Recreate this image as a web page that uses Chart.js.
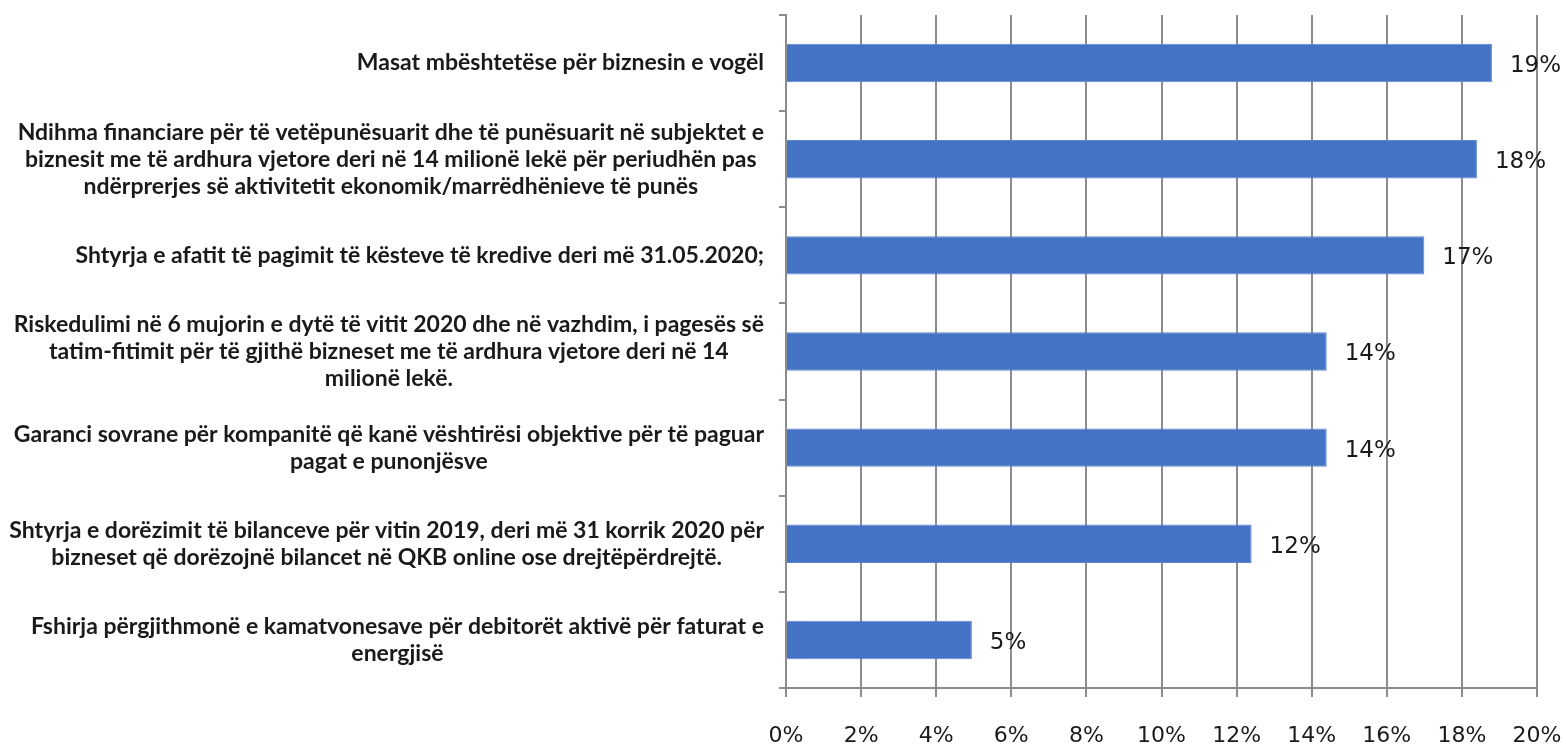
<!DOCTYPE html>
<html>
<head>
<meta charset="utf-8">
<script src="https://cdn.jsdelivr.net/npm/chart.js@4/dist/chart.umd.min.js"></script>
<style>
  html, body { margin: 0; padding: 0; background: #ffffff; }
  #wrap { width: 1566px; height: 745px; position: relative; }
</style>
</head>
<body>
<div id="wrap"><canvas id="c" width="1566" height="745"></canvas></div>
<script>
// ---- Data ----
const categories = [
  ["Masat mbështetëse për biznesin e vogël"],
  ["Ndihma financiare për të vetëpunësuarit dhe të punësuarit në subjektet e",
   "biznesit me të ardhura vjetore deri në 14 milionë lekë për periudhën pas",
   "ndërprerjes së aktivitetit ekonomik/marrëdhënieve të punës"],
  ["Shtyrja e afatit të pagimit të kësteve të kredive deri më 31.05.2020;"],
  ["Riskedulimi në 6 mujorin e dytë të vitit 2020 dhe në vazhdim, i pagesës së",
   "tatim-fitimit për të gjithë bizneset me të ardhura vjetore deri në 14",
   "milionë lekë."],
  ["Garanci sovrane për kompanitë që kanë vështirësi objektive për të paguar",
   "pagat e punonjësve"],
  ["Shtyrja e dorëzimit të bilanceve për vitin 2019, deri më 31 korrik 2020 për",
   "bizneset që dorëzojnë bilancet në QKB online ose drejtëpërdrejtë."],
  ["Fshirja përgjithmonë e kamatvonesave për debitorët aktivë për faturat e",
   "energjisë"]
];
const values = [18.8, 18.4, 17.0, 14.4, 14.4, 12.4, 4.95];
const valueLabels = ["19%", "18%", "17%", "14%", "14%", "12%", "5%"];
const xTicks = [0, 2, 4, 6, 8, 10, 12, 14, 16, 18, 20];

// ---- Plugins ----
const catLabelPlugin = {
  id: 'catLabels',
  afterDraw(chart) {
    const ctx = chart.ctx;
    const y = chart.scales.y;
    ctx.save();
    ctx.font = 'bold 23px Lato, "Open Sans", sans-serif';
    ctx.fillStyle = '#1a1a1a';
    ctx.textAlign = 'center';
    ctx.textBaseline = 'middle';
    const lh = 27;
    const rightEdge = 764;
    categories.forEach((lines, i) => {
      const cy = y.getPixelForValue(i);
      let maxW = 0;
      lines.forEach(l => { maxW = Math.max(maxW, ctx.measureText(l).width); });
      const cx = rightEdge - maxW / 2;
      const y0 = cy - (lines.length - 1) * lh / 2;
      lines.forEach((l, k) => ctx.fillText(l, cx, y0 + k * lh));
    });
    ctx.restore();
  }
};

const valueLabelPlugin = {
  id: 'valLabels',
  afterDatasetsDraw(chart) {
    const ctx = chart.ctx;
    const meta = chart.getDatasetMeta(0);
    ctx.save();
    ctx.font = '23px "DejaVu Sans", Verdana, sans-serif';
    ctx.fillStyle = '#1a1a1a';
    ctx.textAlign = 'left';
    ctx.textBaseline = 'middle';
    meta.data.forEach((bar, i) => {
      ctx.fillText(valueLabels[i], bar.x + 18, bar.y + 3);
    });
    ctx.restore();
  }
};

new Chart(document.getElementById('c'), {
  type: 'bar',
  data: {
    labels: categories.map((c, i) => 'c' + i),
    datasets: [{
      data: values,
      backgroundColor: '#4472C4',
      borderColor: '#5b86cf',
      borderWidth: 1,
      categoryPercentage: 1.0,
      barPercentage: 0.4
    }]
  },
  options: {
    indexAxis: 'y',
    responsive: false,
    animation: false,
    layout: { padding: { top: 15, right: 29, left: 0, bottom: 0 } },
    plugins: { legend: { display: false }, tooltip: { enabled: false } },
    scales: {
      x: {
        position: 'bottom',
        min: 0, max: 20,
        afterBuildTicks(scale) { scale.ticks = xTicks.map(v => ({ value: v })); },
        afterFit(scale) { scale.height = 57; scale.paddingLeft = 0; scale.paddingRight = 0; },
        ticks: {
          callback: v => v + '%',
          font: { family: '"DejaVu Sans", Verdana, sans-serif', size: 22 },
          color: '#1a1a1a',
          padding: 26,
          maxRotation: 0
        },
        grid: { color: '#8c8c8c', lineWidth: 2, tickLength: 9, drawTicks: true },
        border: { color: '#8c8c8c', width: 2 }
      },
      y: {
        position: 'left',
        afterFit(scale) { scale.width = 786; },
        ticks: { display: false },
        grid: { drawOnChartArea: false, drawTicks: true, tickLength: 7, color: '#8c8c8c', lineWidth: 2, offset: true },
        border: { color: '#8c8c8c', width: 2 }
      }
    }
  },
  plugins: [catLabelPlugin, valueLabelPlugin]
});
</script>
</body>
</html>
